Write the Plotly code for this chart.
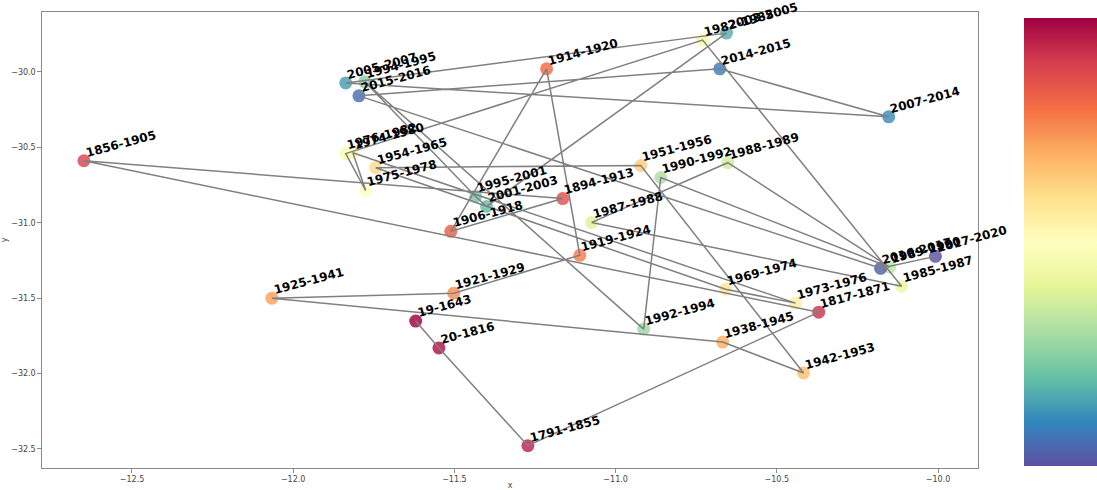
import plotly.graph_objects as go

# ---- data ----
labels = [
    "19-1643", "20-1816", "1791-1855", "1817-1871", "1856-1905", "1894-1913",
    "1906-1918", "1914-1920", "1919-1924", "1921-1929", "1925-1941", "1938-1945",
    "1942-1953", "1951-1956", "1954-1965", "1969-1974", "1973-1976", "1974-1980",
    "1975-1978", "1976-1982", "1982-1985", "1985-1987", "1987-1988", "1988-1989",
    "1989-1990", "1990-1992", "1992-1994", "1994-1995", "1995-2001", "2001-2003",
    "2003-2005", "2005-2007", "2007-2014", "2014-2015", "2015-2016", "2016-2017",
    "2017-2020",
]
xs = [
    -11.620, -11.548, -11.272, -10.370, -12.649, -11.164,
    -11.511, -11.214, -11.111, -11.502, -12.066, -10.668,
    -10.417, -10.922, -11.744, -10.659, -10.442, -11.815,
    -11.775, -11.837, -10.730, -10.113, -11.074, -10.652,
    -10.150, -10.860, -10.913, -11.778, -11.434, -11.400,
    -10.656, -11.837, -10.153, -10.677, -11.796, -10.178,
    -10.008,
]
ys = [
    -31.652, -31.830, -32.478, -31.593, -30.589, -30.840,
    -31.057, -29.980, -31.216, -31.467, -31.500, -31.791,
    -31.996, -30.621, -30.635, -31.441, -31.533, -30.536,
    -30.787, -30.542, -29.789, -31.421, -30.998, -30.602,
    -31.295, -30.700, -31.705, -30.066, -30.826, -30.892,
    -29.743, -30.073, -30.298, -29.980, -30.159, -31.302,
    -31.223,
]
x_ticks = [-12.5, -12.0, -11.5, -11.0, -10.5, -10.0]
y_ticks = [-32.5, -32.0, -31.5, -31.0, -30.5, -30.0]

n = len(labels)
# colour value: earliest period at the top (red) of the colour bar
cvals = [n - 1 - i for i in range(n)]

fig = go.Figure()

fig.add_trace(go.Scatter(
    x=xs, y=ys, mode="markers",
    marker=dict(size=13, color=cvals, colorscale="Spectral_r", opacity=0.82,
                cmin=0, cmax=n - 1, line=dict(width=0),
                showscale=True,
                colorbar=dict(thicknessmode="pixels", thickness=73,
                              lenmode="fraction", len=0.982,
                              x=1.049, xanchor="left", xpad=0,
                              y=0.4956, yanchor="middle", ypad=0,
                              outlinewidth=0, showticklabels=False, ticks="")),
    hoverinfo="skip", showlegend=False,
))

fig.add_trace(go.Scatter(
    x=xs, y=ys, mode="lines",
    line=dict(color="#808080", width=1.5),
    hoverinfo="skip", showlegend=False,
))

# rotated bold labels
ang = 15
for lab, x, y in zip(labels, xs, ys):
    w = 12 * sum(0.696 if c.isdigit() else 0.415 for c in lab)
    fig.add_annotation(
        x=x, y=y, text=lab, showarrow=False, textangle=-ang,
        xanchor="center", yanchor="middle",
        xshift=2 + 0.483 * w, yshift=7.9 + 0.129 * w,
        font=dict(family="DejaVu Sans", size=12, color="black", weight="bold"),
    )

axis_common = dict(
    showgrid=False, zeroline=False, showline=True, mirror=True,
    linecolor="#8a8a8a", linewidth=1.2, ticks="outside", ticklen=3.5,
    tickcolor="#8a8a8a", tickwidth=1, tickformat=".1f",
    tickfont=dict(family="DejaVu Sans", size=8, color="#444444"),
    automargin=False,
)

fig.update_xaxes(range=[-12.779, -9.876], tickvals=x_ticks,
                 title=dict(text="x", font=dict(family="DejaVu Sans", size=8, color="#444444"),
                            standoff=1),
                 **axis_common)
fig.update_yaxes(range=[-32.626, -29.603], tickvals=y_ticks,
                 title=dict(text="y", font=dict(family="DejaVu Sans", size=8, color="#444444"),
                            standoff=8),
                 **axis_common)

fig.update_layout(
    width=1097, height=490,
    margin=dict(l=42, r=119, t=12, b=22, autoexpand=False),
    plot_bgcolor="white", paper_bgcolor="white",
)

# remove the browser's default 8 px body margin so the figure fills the window
fig.write_html("out.html",
               config={"displayModeBar": False, "staticPlot": True},
               post_script="document.body.style.margin='0';document.body.style.overflow='hidden';")
